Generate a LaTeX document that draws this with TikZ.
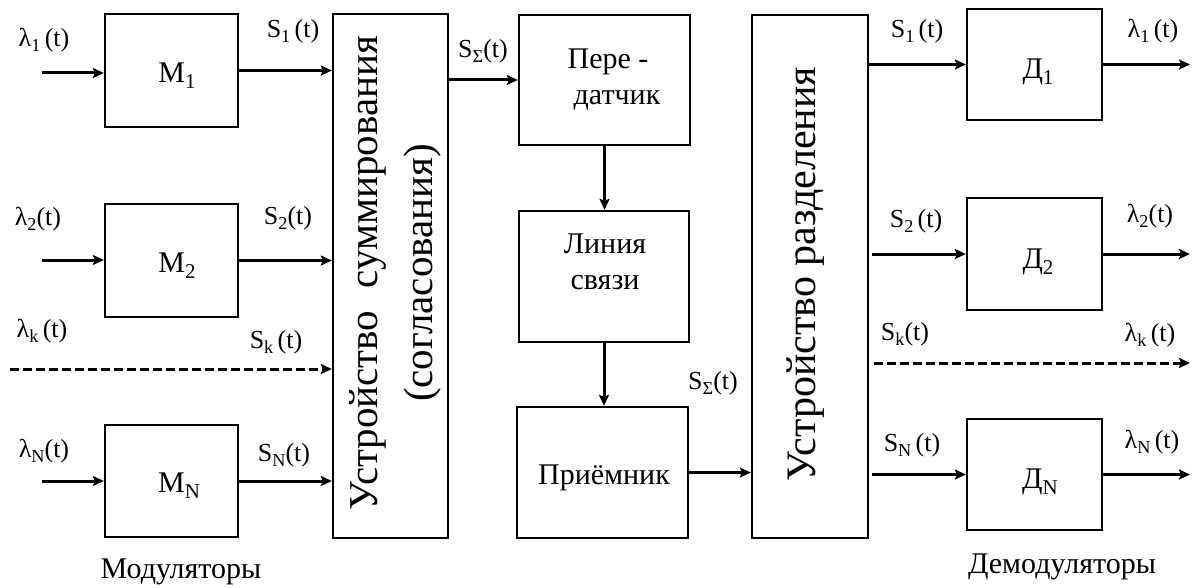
\documentclass[tikz,border=0pt]{standalone}
\usepackage{fontspec}
\setmainfont{Liberation Serif}
\usetikzlibrary{arrows.meta}
\newcommand\lsub[1]{\raisebox{-0.2em}{\scalebox{0.7}{#1}}}
\begin{document}
\begin{tikzpicture}[x=1pt,y=-1pt,
  blk/.style={draw, line width=2.3pt, inner sep=0pt},
  lbl/.style={inner sep=0pt, font=\fontsize{26}{30}\selectfont},
  big/.style={inner sep=0pt, font=\fontsize{30}{36}\selectfont, align=center},
  arr/.style={line width=3pt, -{Stealth[length=11pt,width=10pt,inset=2pt]}},
  dsh/.style={dash pattern=on 9pt off 4pt}]
\useasboundingbox (0,0) rectangle (1194,588);

% modulators
\node[blk, minimum width=133pt, minimum height=113pt] (M1) at (171.5,70.5) {};
\node[big] (M1t) at (177,76) {M\lsub{1}};
\node[blk, minimum width=133pt, minimum height=113pt] (M2) at (171.5,260.5) {};
\node[big] (M2t) at (177,266) {M\lsub{2}};
\node[blk, minimum width=133pt, minimum height=112pt] (MN) at (171.5,481) {};
\node[big] (MNt) at (179,486) {M\lsub{N}};

% summing
\node[blk, minimum width=115pt, minimum height=524pt] (sum) at (390.5,276) {};
\node[rotate=90, align=center, inner sep=0pt, font=\fontsize{41}{55}\selectfont] (sumt) at (395,273)
  {Устройство\hspace{0.55em}суммирования\\(согласования)};

% chain
\node[blk, minimum width=171pt, minimum height=130pt] (tx) at (604.5,80) {};
\node[big] (txt) at (608,80) {Пере -\\\hspace*{0.6em}датчик};
\node[blk, minimum width=170pt, minimum height=131pt] (ln) at (604,276.5) {};
\node[big] (lnt) at (605,262) {Линия\\связи};
\node[blk, minimum width=171pt, minimum height=131pt] (rx) at (602.5,472.5) {};
\node[big] (rxt) at (604,478) {Приёмник};

% separation
\node[blk, minimum width=116pt, minimum height=523pt] (sep) at (810,276.5) {};
\node[rotate=90, inner sep=0pt, font=\fontsize{42}{50}\selectfont] (sept) at (806,274) {Устройство разделения};

% demodulators
\node[blk, minimum width=135pt, minimum height=111pt] (D1) at (1034.5,64.5) {};
\node[big] (D1t) at (1038,72) {Д\lsub{1}};
\node[blk, minimum width=135pt, minimum height=112pt] (D2) at (1034.5,254) {};
\node[big] (D2t) at (1038,262) {Д\lsub{2}};
\node[blk, minimum width=135pt, minimum height=111pt] (DN) at (1034.5,474.5) {};
\node[big] (DNt) at (1040,482) {Д\lsub{N}};

% free ends
\coordinate (i1) at (42,73);
\coordinate (i2) at (42,260);
\coordinate (ik) at (10,369);
\coordinate (iN) at (42,481);
\coordinate (oR) at (1190,0);
\coordinate (okR) at (1190,363);

% connectors left
\draw[arr] (i1) -- (M1.west |- i1);
\draw[arr] (i2) -- (M2.west |- i2);
\draw[arr] (iN) -- (MN.west |- iN);
\draw[arr] (M1.east) -- (M1.east -| sum.west);
\draw[arr] (M2.east) -- (M2.east -| sum.west);
\draw[arr] (MN.east) -- (MN.east -| sum.west);
\draw[arr, dsh] (ik) -- (ik -| sum.west);

% middle
\draw[arr] (sum.east |- tx.west) -- (tx.west);
\draw[arr] (tx.south) -- (tx.south |- ln.north);
\draw[arr] (ln.south) -- (ln.south |- rx.north);
\draw[arr] (rx.east) -- (rx.east -| sep.west);

% right
\draw[arr] (sep.east |- D1.west) -- (D1.west);
\draw[arr] ([xshift=3pt]sep.east |- D2.west) -- (D2.west);
\draw[arr] ([xshift=3pt]sep.east |- DN.west) -- (DN.west);
\draw[arr] (D1.east) -- (D1.east -| oR);
\draw[arr] (D2.east) -- (D2.east -| oR);
\draw[arr] (DN.east) -- (DN.east -| oR);
\draw[arr, dsh] ([xshift=5pt]sep.east |- okR) -- (okR);

% labels
\node[lbl] (l1) at (44,40) {λ\lsub{1}\,(t)};
\node[lbl] (s1) at (293,31) {S\lsub{1}\,(t)};
\node[lbl] (l2) at (38,219) {λ\lsub{2}(t)};
\node[lbl] (s2) at (288,218) {S\lsub{2}(t)};
\node[lbl] (lk) at (42,331) {λ\lsub{k}\,(t)};
\node[lbl] (sk) at (276,342) {S\lsub{k}\,(t)};
\node[lbl] (lN) at (44,451) {λ\lsub{N}(t)};
\node[lbl] (sN) at (284,455) {S\lsub{N}(t)};
\node[lbl] (ss1) at (483,51) {S\lsub{Σ}(t)};
\node[lbl] (ss2) at (713,383) {S\lsub{Σ}(t)};
\node[lbl] (r1) at (917,31) {S\lsub{1}\,(t)};
\node[lbl] (rl1) at (1153,31) {λ\lsub{1}\,(t)};
\node[lbl] (r2) at (916,221) {S\lsub{2}\,(t)};
\node[lbl] (rl2) at (1150,216) {λ\lsub{2}(t)};
\node[lbl] (rk) at (905,334) {S\lsub{k}(t)};
\node[lbl] (rlk) at (1150,335) {λ\lsub{k}\,(t)};
\node[lbl] (rN) at (912,445) {S\lsub{N}\,(t)};
\node[lbl] (rlN) at (1152,442) {λ\lsub{N}\,(t)};
\node[big] (mod) at (181,572) {Модуляторы};
\node[big] (dem) at (1062,567) {Демодуляторы};
\end{tikzpicture}
\end{document}
